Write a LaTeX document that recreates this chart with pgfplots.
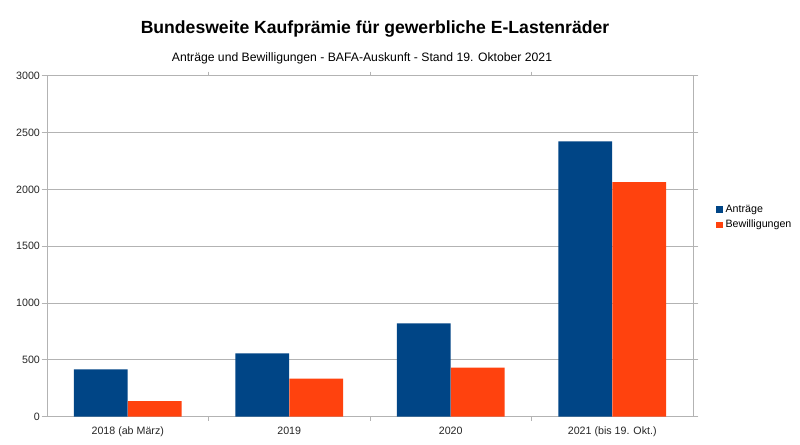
\documentclass[border=0pt]{standalone}
\usepackage{pgfplots}
\pgfplotsset{compat=1.18}
\usepackage{fontspec}
\setmainfont{Liberation Sans}
\definecolor{cblue}{HTML}{004586}
\definecolor{corange}{HTML}{FF420E}
\definecolor{gridc}{HTML}{B3B3B3}
\begin{document}
\begin{tikzpicture}
\path[fill=white] (0,0) rectangle (600pt,333pt);
\node[font=\bfseries\fontsize{13.2}{15}\selectfont] at (281.25pt,311pt) {Bundesweite Kaufprämie für gewerbliche E-Lastenräder};
\node[font=\fontsize{9.15}{11}\selectfont] at (271.5pt,289pt) {Anträge und Bewilligungen - BAFA-Auskunft - Stand 19. Oktober 2021};
\begin{axis}[
  at={(35.25pt,20.475pt)}, anchor=south west,
  scale only axis, width=484.5pt, height=255.75pt,
  ybar, xmin=-0.5, xmax=3.5, ymin=0, ymax=3000,
  ytick={0,500,...,3000},
  xtick={0,1,2,3},
  xticklabels={2018 (ab März),2019,2020,2021 (bis 19. Okt.)},
  minor xtick={0.5,1.5,2.5},
  major x tick style={draw=none},
  tick align=outside,
  major tick length=4pt, minor tick length=3pt,
  tick style={gridc, line width=0.75pt},
  axis line style={gridc, line width=0.75pt},
  ymajorgrids, grid style={gridc, line width=0.75pt},
  tick label style={font=\fontsize{8}{10}\selectfont, text=black!85},
  yticklabel style={xshift=2.2pt},
  /pgf/number format/1000 sep={},
  /pgf/number format/assume math mode=true,
  legend style={at={(1.0356,0.585)}, anchor=west, draw=none, fill=none,
    inner sep=0pt, font=\fontsize{8}{10}\selectfont, row sep=0.5pt,
    /tikz/every even column/.append style={column sep=0pt}},
  legend cell align=left,
  legend image code/.code={\fill[#1] (0pt,-2.5pt) rectangle (5pt,2.5pt);},
  clip=false,
]
\addplot[fill=cblue, draw=none, bar width=0.333, bar shift=-0.1667] coordinates {(0,417) (1,557) (2,821) (3,2422)};
\addlegendentry{Anträge}
\addplot[fill=corange, draw=none, bar width=0.333, bar shift=0.1667] coordinates {(0,138) (1,334) (2,431) (3,2064)};
\addlegendentry{Bewilligungen}
\end{axis}
\end{tikzpicture}
\end{document}
